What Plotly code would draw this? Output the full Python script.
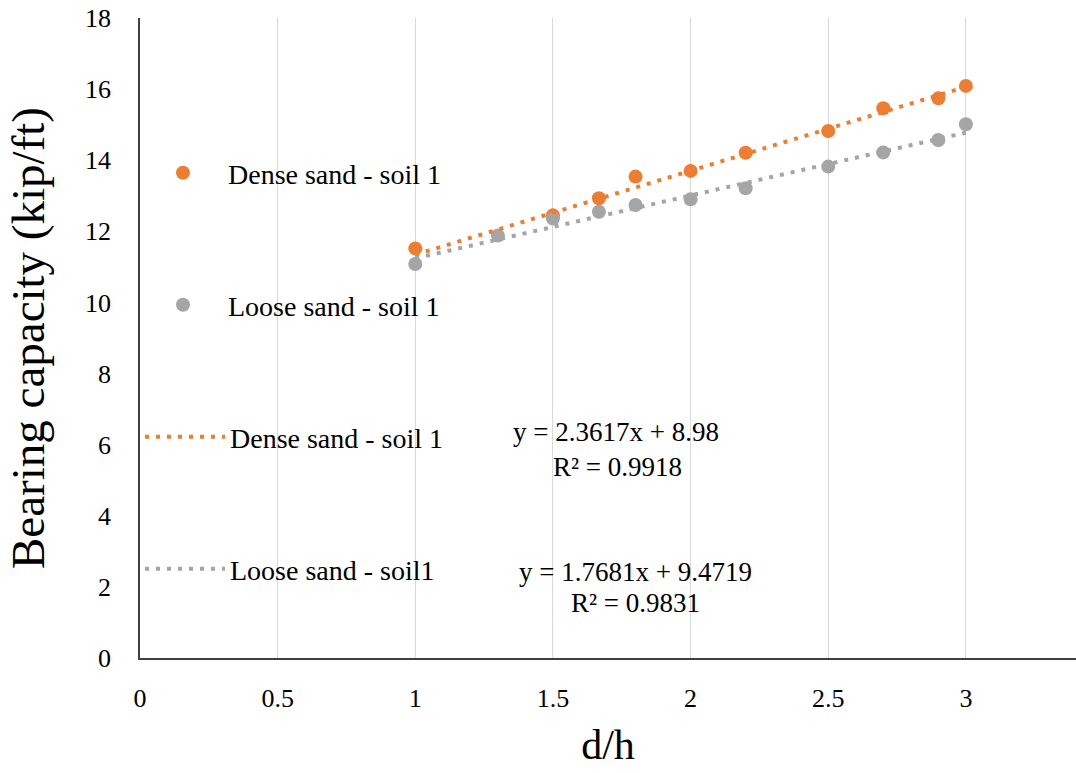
import plotly.graph_objects as go

# ---- data ----
dense_x = [1.0, 1.5, 1.667, 1.8, 2.0, 2.2, 2.5, 2.7, 2.9, 3.0]
dense_y = [11.52, 12.45, 12.93, 13.54, 13.70, 14.21, 14.82, 15.46, 15.74, 16.09]
loose_x = [1.0, 1.3, 1.5, 1.667, 1.8, 2.0, 2.2, 2.5, 2.7, 2.9, 3.0]
loose_y = [11.08, 11.88, 12.36, 12.55, 12.74, 12.90, 13.21, 13.82, 14.22, 14.57, 15.01]

dense_slope, dense_intercept, dense_r2 = 2.3617, 8.98, 0.9918
loose_slope, loose_intercept, loose_r2 = 1.7681, 9.4719, 0.9831
trend_x = [1.0, 3.0]

x_ticks = [0, 0.5, 1, 1.5, 2, 2.5, 3]
y_ticks = [0, 2, 4, 6, 8, 10, 12, 14, 16, 18]

ORANGE = "#ED7D31"
GREY = "#A5A5A5"
FONT = "Liberation Serif, Times New Roman, serif"

fig = go.Figure()

fig.add_trace(go.Scatter(x=dense_x, y=dense_y, mode="markers", name="Dense sand - soil 1",
                         marker=dict(color=ORANGE, size=14), legend="legend", showlegend=True))
fig.add_trace(go.Scatter(x=loose_x, y=loose_y, mode="markers", name="Loose sand - soil 1",
                         marker=dict(color=GREY, size=14), legend="legend2", showlegend=True))
fig.add_trace(go.Scatter(x=trend_x, y=[dense_slope * v + dense_intercept for v in trend_x],
                         mode="lines", name="Dense sand - soil 1", showlegend=True,
                         line=dict(color=ORANGE, width=4, dash="4px,7px"), legend="legend3"))
fig.add_trace(go.Scatter(x=trend_x, y=[loose_slope * v + loose_intercept for v in trend_x],
                         mode="lines", name="Loose sand - soil1", showlegend=True,
                         line=dict(color=GREY, width=4, dash="4px,7px"), legend="legend4"))

W, H = 1076, 773
L, R, T, B = 140, 0, 18, 115
PW, PH = W - L - R, H - T - B

def px(xp):
    return (xp - L) / PW

def py(yp):
    return (H - B - yp) / PH

leg_common = dict(font=dict(family=FONT, size=28, color="#000000"), bgcolor="rgba(0,0,0,0)",
                  xanchor="left", yanchor="middle", itemwidth=80, visible=True)

fig.update_layout(
    width=W, height=H,
    margin=dict(l=L, r=R, t=T, b=B),
    plot_bgcolor="white", paper_bgcolor="white",
    showlegend=True,
    font=dict(family=FONT, size=26, color="#000000"),
    legend=dict(x=px(138), y=py(173), **leg_common),
    legend2=dict(x=px(138), y=py(305), **leg_common),
    legend3=dict(x=px(140), y=py(437), **leg_common),
    legend4=dict(x=px(140), y=py(569), **leg_common),
    xaxis=dict(range=[0, 3.4], tickvals=x_ticks, showgrid=True, gridcolor="#D9D9D9", gridwidth=1,
               showline=True, linecolor="#404040", linewidth=1.5, zeroline=False,
               ticks="", ticklabelstandoff=16,
               tickfont=dict(family=FONT, size=26),
               title=dict(text="d/h", font=dict(family=FONT, size=42), standoff=18)),
    yaxis=dict(range=[0, 18], tickvals=y_ticks, showgrid=False,
               showline=True, linecolor="#404040", linewidth=1.5, zeroline=False,
               ticks="", ticklabelstandoff=22,
               tickfont=dict(family=FONT, size=26),
               title=dict(text="Bearing capacity (kip/ft)", font=dict(family=FONT, size=47), standoff=26)),
)

eq_font = dict(family=FONT, size=27, color="#000000")
for text, xp, yp in [
    (f"y = {dense_slope}x + {dense_intercept}", 616, 432),
    (f"R² = {dense_r2}", 617, 467),
    (f"y = {loose_slope}x + {loose_intercept}", 635, 572),
    (f"R² = {loose_r2}", 635, 603),
]:
    fig.add_annotation(x=px(xp), y=py(yp), xref="paper", yref="paper", text=text,
                       showarrow=False, font=eq_font, xanchor="center", yanchor="middle")

fig.write_html("out.html")
